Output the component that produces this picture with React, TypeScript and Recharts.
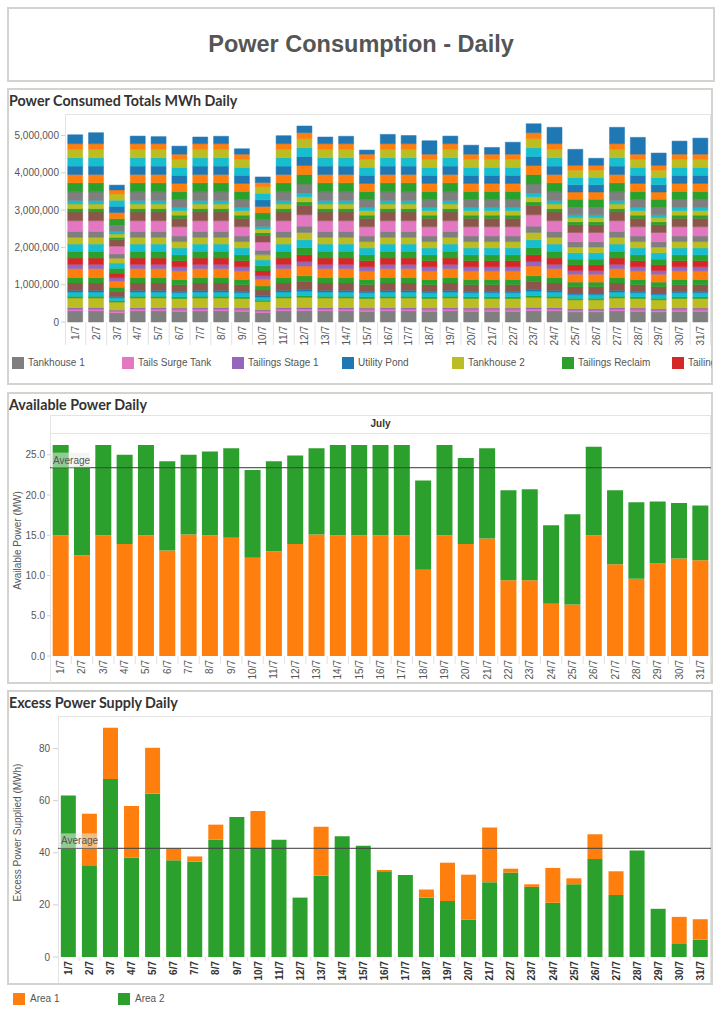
import React from 'react';
import { BarChart, Bar, XAxis, YAxis, ReferenceLine } from 'recharts';

// ---------- categories ----------
const DAYS = ['1/7','2/7','3/7','4/7','5/7','6/7','7/7','8/7','9/7','10/7','11/7','12/7','13/7','14/7','15/7','16/7','17/7','18/7','19/7','20/7','21/7','22/7','23/7','24/7','25/7','26/7','27/7','28/7','29/7','30/7','31/7'];

// ---------- Power consumed (thousands of MWh), bottom -> top ----------
const TANKHOUSE_1 = [295,295,245,295,295,285,295,295,285,250,295,300,295,295,285,295,295,285,295,285,285,285,300,295,270,270,295,285,270,285,285];
const TAILS_SURGE_TANK = [45,45,40,45,45,45,45,45,45,40,45,45,45,45,45,45,45,45,45,45,45,45,45,45,40,40,45,45,40,45,45];
const TAILINGS_STAGE_1 = [45,45,35,45,45,45,45,45,45,35,45,45,45,45,45,45,45,45,45,45,45,45,45,45,40,40,45,45,40,45,45];
const TANKHOUSE_2 = [260,260,215,260,260,255,260,260,255,225,260,270,260,260,255,260,260,255,260,255,255,255,270,260,245,245,260,255,245,255,255];
const TAILINGS_RECLAIM = [45,45,35,45,45,45,45,45,45,35,45,45,45,45,45,45,45,45,45,45,45,45,45,45,40,40,45,45,40,45,45];
const THICKENER_1 = [115,115,80,115,115,110,115,115,110,85,115,120,115,115,110,115,115,110,115,110,110,110,120,115,100,100,115,110,100,110,110];
const PROCESS_WATER = [45,45,35,45,45,40,45,45,40,35,45,50,45,45,40,45,45,40,45,40,40,40,50,45,40,40,45,40,40,40,40];
const CRUSHER_1 = [195,195,140,195,195,175,195,195,175,150,195,210,195,195,175,195,195,175,195,175,175,175,210,195,170,170,195,175,170,175,175];
const MILL_1 = [145,145,105,145,145,140,145,145,140,110,145,155,145,145,140,145,145,140,145,140,140,140,155,145,125,125,145,140,125,140,140];
const MILL_2 = [240,240,170,240,240,230,240,240,230,185,240,260,240,240,230,240,240,230,240,230,230,230,260,240,210,210,240,230,210,230,230];
const FLOTATION_1 = [115,115,85,115,115,110,115,115,110,90,115,120,115,115,110,115,115,110,115,110,110,110,120,115,100,100,115,110,100,110,110];
const TAILINGS_STAGE_2 = [170,170,125,170,170,160,170,170,160,130,170,180,170,170,160,170,170,160,170,160,160,160,180,170,150,150,170,160,150,160,160];
const FLOTATION_2 = [180,180,130,180,180,160,180,180,160,140,180,195,180,180,160,180,180,160,180,160,160,160,195,180,155,155,180,160,155,160,160];
const LEACH_1 = [195,195,140,195,195,185,195,195,185,150,195,210,195,195,185,195,195,185,195,185,185,185,210,195,170,170,195,185,170,185,185];
const LEACH_2 = [180,180,130,180,180,170,180,180,170,140,180,195,180,180,170,180,180,170,180,170,170,170,195,180,155,155,180,170,155,170,170];
const CRUSHER_2 = [160,160,115,160,160,150,160,160,150,125,160,170,160,160,150,160,160,150,160,150,150,150,170,160,140,140,160,150,140,150,150];
const TAILS_PUMP = [285,285,210,285,285,250,285,285,250,220,285,305,285,285,250,285,285,250,285,250,250,250,305,285,250,250,285,250,250,250,250];
const CONVEYOR_1 = [235,235,170,235,235,225,235,235,225,180,235,250,235,235,225,235,235,225,235,225,225,225,250,235,205,205,235,225,205,225,225];
const CONVEYOR_2 = [90,90,65,90,90,85,90,90,85,70,90,95,90,90,85,90,90,85,90,85,85,85,95,90,80,80,90,85,80,85,85];
const SX_PLANT_1 = [125,125,90,125,125,120,125,125,120,95,125,135,125,125,120,125,125,120,125,120,120,120,135,125,110,110,125,120,110,120,120];
const SX_PLANT_2 = [90,90,65,90,90,85,90,90,85,70,90,95,90,90,85,90,90,85,90,85,85,85,95,90,80,80,90,85,80,85,85];
const FILTER_PLANT = [235,235,170,235,235,210,235,235,210,180,235,250,235,235,210,235,235,210,235,210,210,210,250,235,205,205,235,210,205,210,210];
const REGRIND_MILL = [240,240,175,240,240,220,240,240,220,185,240,255,240,240,220,240,240,220,240,220,220,220,255,240,210,210,240,220,210,220,220];
const BALL_MILL = [225,225,165,225,225,215,225,225,215,175,225,240,225,225,215,225,225,215,225,215,215,215,240,225,195,195,225,215,195,215,215];
const RAW_WATER = [225,225,165,225,225,215,225,225,215,175,225,240,225,225,215,225,225,215,225,215,215,215,240,225,195,195,225,215,195,215,215];
const THICKENER_2 = [225,225,165,225,225,215,225,225,215,175,225,240,225,225,215,225,225,215,225,215,215,215,240,225,195,195,225,215,195,215,215];
const TANKHOUSE_3 = [225,225,165,225,225,215,225,225,215,175,225,240,225,225,215,225,225,215,225,215,215,215,240,225,195,195,225,215,195,215,215];
const ADMIN_WORKSHOP = [150,150,110,150,150,140,150,150,140,115,150,160,150,150,140,150,150,140,150,140,140,140,160,150,130,130,150,140,130,140,140];
const UTILITY_POND = [240,295,130,205,190,215,180,200,145,150,215,180,180,200,110,250,220,360,205,240,180,320,240,440,430,190,440,450,330,350,430];

const CONSUMED_TICKS = [0, 1000, 2000, 3000, 4000, 5000];

// ---------- Available power (MW) ----------
const AVAILABLE_AREA1 = [15.0,12.5,15.0,13.9,15.0,13.1,15.1,15.0,14.7,12.2,13.0,13.9,15.1,15.0,15.0,15.0,15.0,10.7,15.0,13.9,14.6,9.4,9.4,6.5,6.4,15.0,11.4,9.6,11.5,12.1,11.9];
const AVAILABLE_AREA2 = [11.2,11.0,11.2,11.1,11.2,11.1,9.9,10.4,11.1,10.9,11.2,11.0,10.7,11.2,11.2,11.2,11.2,11.1,11.2,10.7,11.2,11.2,11.3,9.75,11.2,11.0,9.2,9.5,7.7,6.9,6.8];
const AVAILABLE_AVERAGE = 23.4;
const AVAILABLE_TICKS = [0, 5, 10, 15, 20, 25];

// ---------- Excess power supplied (MWh) ----------
const EXCESS_AREA2 = [62.0,35.2,68.3,38.2,62.8,37.1,36.7,45.0,53.7,41.8,45.0,22.8,31.2,46.3,42.7,32.9,31.5,22.8,21.5,14.4,28.7,32.4,26.9,20.8,27.9,37.6,23.8,40.9,18.5,5.0,6.7];
const EXCESS_AREA1 = [0,19.8,19.7,19.8,17.5,4.6,1.9,5.8,0,14.2,0,0,18.8,0,0,0.5,0,3.1,14.7,17.2,21.0,1.5,1.0,13.4,2.3,9.5,9.1,0,0,10.4,7.8];
const EXCESS_AVERAGE = 41.7;
const EXCESS_TICKS = [0, 20, 40, 60, 80];

// ---------- colours ----------
const GRAY = '#7f7f7f', PINK = '#e377c2', PURPLE = '#9467bd', BLUE = '#1f77b4', OLIVE = '#bcbd22';
const GREEN = '#2ca02c', RED = '#d62728', ORANGE = '#ff7f0e', BROWN = '#8c564b', CYAN = '#17becf';

const SEGMENTS = [
  { name: 'Tankhouse 1', color: GRAY, values: TANKHOUSE_1 },
  { name: 'Tails Surge Tank', color: PINK, values: TAILS_SURGE_TANK },
  { name: 'Tailings Stage 1', color: PURPLE, values: TAILINGS_STAGE_1 },
  { name: 'Tankhouse 2', color: OLIVE, values: TANKHOUSE_2 },
  { name: 'Tailings Reclaim', color: GREEN, values: TAILINGS_RECLAIM },
  { name: 'Thickener 1', color: CYAN, values: THICKENER_1 },
  { name: 'Process Water', color: BLUE, values: PROCESS_WATER },
  { name: 'Crusher 1', color: BROWN, values: CRUSHER_1 },
  { name: 'Mill 1', color: GREEN, values: MILL_1 },
  { name: 'Mill 2', color: ORANGE, values: MILL_2 },
  { name: 'Flotation 1', color: PURPLE, values: FLOTATION_1 },
  { name: 'Tailings Stage 2', color: RED, values: TAILINGS_STAGE_2 },
  { name: 'Flotation 2', color: GREEN, values: FLOTATION_2 },
  { name: 'Leach 1', color: CYAN, values: LEACH_1 },
  { name: 'Leach 2', color: OLIVE, values: LEACH_2 },
  { name: 'Crusher 2', color: GRAY, values: CRUSHER_2 },
  { name: 'Tails Pump', color: PINK, values: TAILS_PUMP },
  { name: 'Conveyor 1', color: BROWN, values: CONVEYOR_1 },
  { name: 'Conveyor 2', color: GREEN, values: CONVEYOR_2 },
  { name: 'SX Plant 1', color: OLIVE, values: SX_PLANT_1 },
  { name: 'SX Plant 2', color: CYAN, values: SX_PLANT_2 },
  { name: 'Filter Plant', color: GRAY, values: FILTER_PLANT },
  { name: 'Regrind Mill', color: GREEN, values: REGRIND_MILL },
  { name: 'Ball Mill', color: ORANGE, values: BALL_MILL },
  { name: 'Raw Water', color: BLUE, values: RAW_WATER },
  { name: 'Thickener 2', color: CYAN, values: THICKENER_2 },
  { name: 'Tankhouse 3', color: OLIVE, values: TANKHOUSE_3 },
  { name: 'Admin & Workshop', color: ORANGE, values: ADMIN_WORKSHOP },
  { name: 'Utility Pond', color: BLUE, values: UTILITY_POND },
];

const LEGEND_1 = [
  { name: 'Tankhouse 1', color: GRAY },
  { name: 'Tails Surge Tank', color: PINK },
  { name: 'Tailings Stage 1', color: PURPLE },
  { name: 'Utility Pond', color: BLUE },
  { name: 'Tankhouse 2', color: OLIVE },
  { name: 'Tailings Reclaim', color: GREEN },
  { name: 'Tailings Stage 2', color: RED },
];

const consumedData = DAYS.map((day, i) => {
  const row: any = { day };
  SEGMENTS.forEach((s, k) => { row['s' + k] = s.values[i]; });
  return row;
});
const availableData = DAYS.map((day, i) => ({ day, a1: AVAILABLE_AREA1[i], a2: AVAILABLE_AREA2[i] }));
const excessData = DAYS.map((day, i) => ({ day, a1: EXCESS_AREA1[i], a2: EXCESS_AREA2[i] }));

const FONT = '"Liberation Sans", Arial, sans-serif';
const TITLE_FONT = 'Lato, "Open Sans", sans-serif';

function makeTick(band: number, sepLen: number, bold: boolean) {
  return (props: any) => {
    const { x, y, payload } = props;
    const ty = y + 4;
    return (
      <g>
        <line x1={x + band / 2} x2={x + band / 2} y1={y} y2={y + sepLen} stroke="#e2e2e2" strokeWidth={1} />
        <text
          x={x}
          y={ty}
          transform={`rotate(-90 ${x} ${ty})`}
          textAnchor="end"
          dy="0.35em"
          fontSize={10}
          fontFamily={FONT}
          fontWeight={bold ? 'bold' : 'normal'}
          fill={bold ? '#333' : '#555'}
        >
          {payload.value}
        </text>
      </g>
    );
  };
}

function yLabel(text: string) {
  return (props: any) => {
    const vb = props.viewBox || {};
    const cx = vb.x + 9;
    const cy = vb.y + vb.height / 2 - 4;
    return (
      <text
        x={cx}
        y={cy}
        transform={`rotate(-90 ${cx} ${cy})`}
        textAnchor="middle"
        dominantBaseline="central"
        fontSize={10}
        fontFamily={FONT}
        fill="#555"
      >
        {text}
      </text>
    );
  };
}

const averageLabel = (props: any) => {
  const vb = props.viewBox || {};
  return (
    <g>
      <rect x={vb.x + 1} y={vb.y - 15} width={39} height={15} fill="#e8efe8" fillOpacity={0.55} />
      <text x={vb.x + 3} y={vb.y - 4} fontSize={10} fontFamily={FONT} fill="#555">Average</text>
    </g>
  );
};

const panel = (top: number, height: number): React.CSSProperties => ({
  position: 'absolute', left: 7, top, width: 706, height,
  border: '2px solid #d3d3cf', boxSizing: 'border-box', background: '#fff',
});

const line = (left: number, top: number, width: number, height: number): React.CSSProperties => ({
  position: 'absolute', left, top, width, height, background: '#e4e4e4',
});

const panelTitle = (top: number): React.CSSProperties => ({
  position: 'absolute', left: 9, top, fontFamily: TITLE_FONT, fontWeight: 700,
  fontSize: 14.3, color: '#333', lineHeight: '18px', whiteSpace: 'nowrap',
});

const legendText: React.CSSProperties = {
  position: 'absolute', left: 16, top: 0, fontFamily: FONT, fontSize: 10, color: '#555',
  lineHeight: '12px', whiteSpace: 'nowrap',
};

export default function App() {
  return (
    <div style={{ position: 'absolute', left: 0, top: 0, width: 724, height: 1024, background: '#fff', overflow: 'hidden' }}>
      {/* Title */}
      <div style={{ ...panel(7, 75), width: 708 }} />
      <div style={{ position: 'absolute', left: 0, top: 30, width: 722, textAlign: 'center', fontFamily: FONT, fontWeight: 700, fontSize: 23.5, color: '#555', lineHeight: '28px' }}>
        Power Consumption - Daily
      </div>

      {/* Panel 1 */}
      <div style={panel(88, 297)} />
      <div style={panelTitle(92)}>Power Consumed Totals MWh Daily</div>
      <div style={line(65, 114, 1, 231)} />
      <div style={line(65, 114, 646, 1)} />
      <div style={line(710, 114, 1, 231)} />
      <div style={{ position: 'absolute', left: 8, top: 110 }}>
        <BarChart width={706} height={240} data={consumedData} margin={{ top: 5, right: 3, left: 0, bottom: 0 }} barCategoryGap="13%">
          <XAxis dataKey="day" interval={0} height={28} axisLine={false} tickLine={false} tickSize={0} tickMargin={0} tick={makeTick(20.83, 23, false)} />
          <YAxis
            width={57}
            domain={[0, 5550]}
            ticks={CONSUMED_TICKS}
            axisLine={false}
            tickLine={{ stroke: '#cfcfcf' }}
            tickSize={4}
            tickMargin={2}
            tick={{ fontSize: 10, fill: '#555', fontFamily: FONT }}
            tickFormatter={(v: number) => (v * 1000).toLocaleString('en-US')}
          />
          {SEGMENTS.map((s, k) => (
            <Bar key={k} dataKey={'s' + k} name={s.name} stackId="a" fill={s.color} stroke={s.color} strokeWidth={0.5} isAnimationActive={false} />
          ))}
        </BarChart>
      </div>
      <div style={{ position: 'absolute', left: 12, top: 357, width: 700, height: 14, overflow: 'hidden' }}>
        {LEGEND_1.map((l, i) => (
          <div key={l.name} style={{ position: 'absolute', left: i * 110, top: 0, width: 110, height: 12 }}>
            <div style={{ position: 'absolute', left: 0, top: 0, width: 12, height: 12, background: l.color }} />
            <div style={legendText}>{l.name}</div>
          </div>
        ))}
      </div>

      {/* Panel 2 */}
      <div style={panel(392, 292)} />
      <div style={panelTitle(396)}>Available Power Daily</div>
      <div style={line(50, 415, 1, 268)} />
      <div style={line(50, 415, 661, 1)} />
      <div style={line(50, 433, 661, 1)} />
      <div style={line(710, 415, 1, 268)} />
      <div style={{ position: 'absolute', left: 50, top: 417, width: 661, textAlign: 'center', fontFamily: FONT, fontWeight: 700, fontSize: 10, color: '#333', lineHeight: '14px' }}>July</div>
      <div style={{ position: 'absolute', left: 8, top: 428 }}>
        <BarChart width={706} height={254} data={availableData} margin={{ top: 5, right: 3, left: 0, bottom: 0 }} barCategoryGap="12.5%">
          <XAxis dataKey="day" interval={0} height={26} axisLine={false} tickLine={false} tickSize={0} tickMargin={0} tick={makeTick(21.33, 8, false)} />
          <YAxis
            width={42}
            domain={[0, 27.7]}
            ticks={AVAILABLE_TICKS}
            axisLine={false}
            tickLine={{ stroke: '#cfcfcf' }}
            tickSize={3}
            tickMargin={2}
            tick={{ fontSize: 10, fill: '#555', fontFamily: FONT }}
            tickFormatter={(v: number) => v.toFixed(1)}
            label={yLabel('Available Power (MW)')}
          />
          <Bar dataKey="a1" name="Area 1" stackId="a" fill={ORANGE} isAnimationActive={false} />
          <Bar dataKey="a2" name="Area 2" stackId="a" fill={GREEN} isAnimationActive={false} />
          <ReferenceLine y={AVAILABLE_AVERAGE} stroke="#444" strokeOpacity={0.85} strokeWidth={1.3} label={averageLabel} />
        </BarChart>
      </div>

      {/* Panel 3 */}
      <div style={panel(690, 295)} />
      <div style={panelTitle(694)}>Excess Power Supply Daily</div>
      <div style={line(58, 716, 1, 267)} />
      <div style={line(58, 716, 653, 1)} />
      <div style={line(710, 716, 1, 267)} />
      <div style={{ position: 'absolute', left: 8, top: 711 }}>
        <BarChart width={706} height={272} data={excessData} margin={{ top: 5, right: 3, left: 0, bottom: 0 }} barCategoryGap="13.5%">
          <XAxis dataKey="day" interval={0} height={26} axisLine={false} tickLine={false} tickSize={0} tickMargin={0} tick={makeTick(21.07, 4, true)} />
          <YAxis
            width={50}
            domain={[0, 92.5]}
            ticks={EXCESS_TICKS}
            axisLine={false}
            tickLine={{ stroke: '#cfcfcf' }}
            tickSize={5}
            tickMargin={3}
            tick={{ fontSize: 10, fill: '#555', fontFamily: FONT }}
            label={yLabel('Excess Power Supplied (MWh)')}
          />
          <Bar dataKey="a2" name="Area 2" stackId="a" fill={GREEN} isAnimationActive={false} />
          <Bar dataKey="a1" name="Area 1" stackId="a" fill={ORANGE} isAnimationActive={false} />
          <ReferenceLine y={EXCESS_AVERAGE} stroke="#444" strokeOpacity={0.85} strokeWidth={1.3} label={averageLabel} />
        </BarChart>
      </div>

      {/* Bottom legend */}
      <div style={{ position: 'absolute', left: 13, top: 993, width: 300, height: 14 }}>
        <div style={{ position: 'absolute', left: 0, top: 0, width: 12, height: 12, background: ORANGE }} />
        <div style={{ ...legendText, left: 17 }}>Area 1</div>
        <div style={{ position: 'absolute', left: 105, top: 0, width: 12, height: 12, background: GREEN }} />
        <div style={{ ...legendText, left: 122 }}>Area 2</div>
      </div>
    </div>
  );
}
